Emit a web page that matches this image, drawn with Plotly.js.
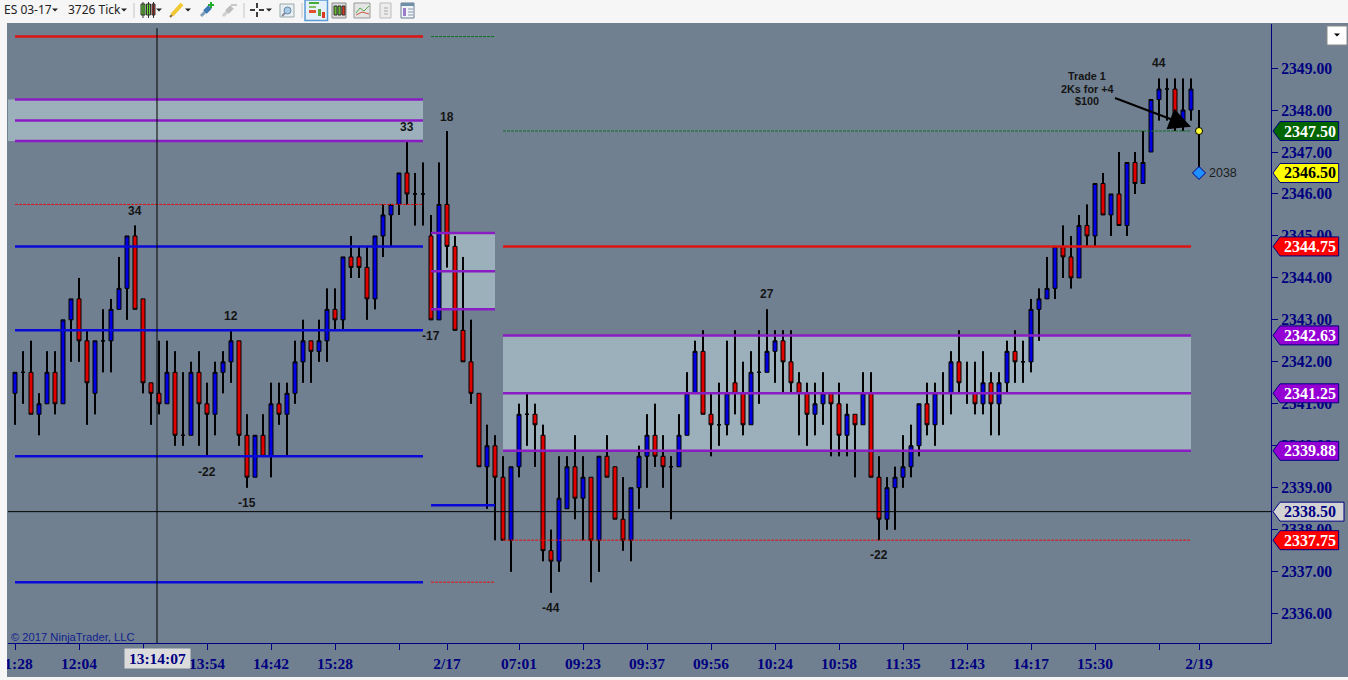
<!DOCTYPE html>
<html><head><meta charset="utf-8">
<script src="https://cdn.plot.ly/plotly-3.0.1.min.js"></script>
<style>html,body{margin:0;padding:0;background:#fff;overflow:hidden}#c{width:1348px;height:680px}</style>
</head><body><div id="c"></div>
<script>
const bars=Array.from({length:149},(_, i)=>i);
const opens=[2341.25,2341.75,2341.75,2340.75,2341,2341.75,2341,2343,2343.5,2342.5,
2341.25,2342.5,2342.5,2343.25,2343.75,2345,2343.5,2341.5,2341.25,2341,
2341.75,2340.25,2340.25,2341.75,2341,2340.75,2341.75,2342,2342.5,2340.25,
2339.25,2340.25,2339.75,2341,2340.75,2341.25,2342,2342.5,2342.25,2342.5,
2343.25,2343,2344.5,2344.5,2344.25,2343.5,2345,2345.5,2345.75,2346.5,
2346,2346,2345,2343,2345.75,2344.75,2342.75,2342,2341.25,2339.5,
2340,2339.25,2337.75,2339.5,2340.75,2340.75,2340.25,2337.5,2337.25,2338.5,
2339.5,2338.75,2339.25,2337.75,2339.75,2339.5,2338.25,2337.75,2339,2339.75,
2340.25,2339.75,2339.5,2339.5,2340.25,2341.25,2342.25,2340.75,2340.5,2340.5,
2341.5,2341.25,2340.5,2341.75,2341.75,2342.25,2342.5,2342,2341.5,2341.25,
2340.75,2341,2341.25,2341,2340.25,2340.75,2340.5,2341.25,2339.25,2338.25,
2339,2339.25,2339.5,2340,2341,2340.5,2341.25,2341.25,2342,2341.25,
2341.25,2341,2341.5,2341,2341.5,2342.25,2342,2342,2343.25,2343.5,
2343.75,2344.75,2344.5,2344,2345.25,2345,2346.25,2345.5,2346,2345.25,
2346.75,2346.25,2347,2348.25,2348.5,2348.5,2347.75,2348,2347.5];
const highs=[2341.75,2342.25,2342.5,2341.25,2342.25,2342.25,2343,2343.5,2344,2342.75,
2342.5,2343.25,2343.5,2344.5,2345,2345.25,2343.5,2341.5,2342.5,2342.5,
2342.25,2341.75,2342,2342.25,2341.5,2342,2342.25,2342.75,2342.5,2340.75,
2340.25,2340.75,2341.5,2341.5,2341.5,2342.5,2343,2342.5,2343,2343.75,
2343.75,2344.5,2345,2344.75,2344.75,2345,2345.75,2345.75,2346.5,2347.25,
2346.5,2346.75,2345.5,2346.75,2347.5,2345,2344.5,2343,2341.25,2340.5,
2340.25,2339.75,2339.5,2341,2341.25,2341,2340.5,2338,2339.75,2339.75,
2340.25,2339.75,2339.25,2339.75,2340.25,2339.5,2339.25,2339,2340,2340.75,
2341,2340.25,2339.75,2340.75,2341.75,2342.5,2342.75,2341.25,2341.5,2342.5,
2342.75,2342,2342.25,2342.75,2343.25,2342.75,2342.75,2342.75,2341.75,2341.5,
2341.5,2341.75,2341.25,2341.5,2341,2340.75,2341.75,2341.75,2339.75,2339.25,
2339.5,2340.25,2340.5,2341,2341.5,2341.5,2341.75,2342.25,2342.75,2342,
2342,2342.25,2341.75,2341.75,2342.5,2342.75,2342.5,2343.5,2343.75,2344.5,
2344.75,2345.25,2345,2345.5,2345.75,2346.25,2346.5,2346,2347,2346.75,
2347,2347.5,2348.25,2348.75,2348.75,2348.75,2348.75,2348.75,2348];
const lows=[2340.5,2341,2340.75,2340.25,2341,2340.75,2341,2342,2342,2340.5,
2340.75,2341.75,2341.75,2343.25,2343,2343.25,2341.25,2340.5,2340.75,2341,
2340,2340,2340.25,2340,2339.75,2340.25,2341.25,2341.5,2340,2339,
2339.25,2339.75,2339.25,2340.5,2339.75,2341,2341.5,2341.5,2342,2342,
2342.75,2342.75,2344,2344,2343,2343.25,2344.5,2344.75,2345.5,2345.75,
2345.25,2345.25,2343,2343,2344.25,2342.75,2342,2341,2339.5,2338.5,
2337.75,2337.75,2337,2339.25,2340,2339.5,2337.25,2336.5,2337,2338.5,
2338.25,2337.75,2336.75,2337,2339.25,2338.25,2337.5,2337.25,2338.5,2339,
2339.5,2339,2338.25,2339.5,2340.25,2341.25,2340.75,2339.75,2340,2340.25,
2340.75,2340.25,2340.5,2341,2341.75,2341.5,2341.25,2341.25,2340.25,2340,
2340.25,2340.5,2339.75,2339.75,2339.75,2339.25,2340.5,2339.25,2337.75,2338,
2338,2339,2339.25,2339.75,2340.25,2340,2340.5,2340.75,2341.25,2341,
2340.75,2340.75,2340.25,2340.25,2341.25,2341.5,2341.5,2341.75,2342.5,2343.5,
2343.5,2344,2343.75,2344,2344.75,2344.75,2345.5,2345,2345.25,2345,
2346,2346.25,2347,2347.75,2347.75,2347.5,2347.5,2347.75,2346.5];
const closes=[2341.75,2341.75,2340.75,2341,2341.75,2341,2343,2343.5,2342.5,2341.5,
2342.5,2342.5,2343.25,2343.75,2345,2343.25,2341.5,2341.25,2341,2341.75,
2340.25,2340.25,2341.75,2341,2340.75,2341.75,2342,2342.5,2340.25,2339.25,
2340.25,2339.75,2341,2340.75,2341.25,2342,2342.5,2342.25,2342.5,2343.25,
2343,2344.5,2344.25,2344.25,2343.5,2345,2345.5,2345.75,2346.5,2346,
2346,2346,2343,2345.75,2344.75,2342.75,2342,2341.25,2339.5,2340,
2339.25,2337.75,2339.5,2340.75,2340.75,2340.5,2337.5,2337.25,2338.75,2339.5,
2338.75,2339.25,2337.75,2339.75,2339.25,2338.25,2337.75,2339,2339.75,2340.25,
2339.75,2339.5,2339.5,2340.25,2341.25,2342.25,2340.75,2340.5,2340.5,2341.25,
2341.25,2340.5,2341.75,2341.75,2342.25,2342.5,2342,2341.5,2341.25,2340.75,
2341,2341.25,2341,2340.25,2340.75,2340.5,2341.25,2339.25,2338.25,2339,
2339.25,2339.5,2340,2341,2340.5,2341.25,2341.25,2342,2341.5,2341.25,
2341,2341.5,2341,2341.5,2342.25,2342,2342,2343.25,2343.5,2343.75,
2344.75,2344.5,2344,2345.25,2345,2346.25,2345.5,2346,2345.25,2346.75,
2346.25,2346.75,2348.25,2348.5,2348.5,2347.75,2348,2348.5,2347.5];

// horizontal levels: session start bar, end bar, prices
const sessionA=[0,51], sessionB=[52,60], sessionC=[61,147];
const purpleA=[2348.25,2347.75,2347.26], purpleB=[2345.07,2344.16,2343.25], purpleC=[2342.63,2341.25,2339.88];
const blueA=[2344.75,2342.75,2339.75,2336.75], blueB=[2338.58];
const redSolidA=[2349.75], redSolidC=[2344.75];
const redDashA=[2345.75], redDashB=[2336.75], redDashC=[2337.75];
const greenDashB=[2349.75], greenDashC=[2347.5];

const tickBars=[0,8,16,24,32,40,48,54,63,71,79,87,95,103,111,119,127,135,143,148];
const tickTexts=['11:28','12:04','','13:54','14:42','15:28','','2/17','07:01','09:23','09:37','09:56','10:24','10:58','11:35','12:43','14:17','15:30','','2/19'];
const priceTicks=[2336,2337,2338,2339,2340,2341,2342,2343,2344,2345,2346,2347,2348,2349];

const swingBars=[15,49,54,27,24,29,52,94,108,67,143];
const swingPrices=[2345.59,2347.59,2347.83,2343.09,2339.37,2338.63,2342.61,2343.61,2337.39,2336.13,2349.12];
const swingLabels=['34','33','18','12','-22','-15','-17','27','-22','-44','44'];

const flagPrices=[2347.5,2346.5,2344.75,2342.63,2341.25,2339.88,2338.43,2337.75];
const flagLabels=['2347.50','2346.50','2344.75','2342.63','2341.25','2339.88','2338.50','2337.75'];
const flagFills=['#006400','#ffff00','#ff0000','#9400d3','#9400d3','#9400d3','#d3d3d3','#ff0000'];
const flagInks=['#ffffff','#000000','#ffffff','#ffffff','#ffffff','#ffffff','#000080','#ffffff'];

const crossBar=17.75, crossPrice=2338.43, crossTop=2349.95;
const markerBar=148, dotPrice=2347.5, diamondPrice=2346.5, volumeText='2038';

// geometry helpers (pixel to paper fractions)
const L=8,R=1271,T=24,B=643;
const fx=x=>(x-L)/(R-L), fy=y=>(B-y)/(B-T);
const SLATE='#708090',BAND='#9bb0ba',NAVY='#000080';

const traces=[];
function seg(range,levels,color,width,dash){
  levels.forEach(v=>traces.push({type:'scatter',mode:'lines',x:range,y:[v,v],
    line:{color,width,dash:dash||'solid'},hoverinfo:'skip',showlegend:false}));
}
// bodies from the candlestick; 2px wicks from the series, above and below each body
traces.push({type:'candlestick',x:bars,open:opens,high:highs,low:lows,close:closes,
  increasing:{line:{color:'#000',width:1},fillcolor:'#0000e0'},
  decreasing:{line:{color:'#000',width:1},fillcolor:'#e00000'},
  whiskerwidth:0,hoverinfo:'skip',showlegend:false});
traces.push({type:'scatter',mode:'lines',
  x:bars.flatMap(i=>[bars[i],bars[i],null,bars[i],bars[i],null]),
  y:bars.flatMap(i=>[highs[i],Math.max(opens[i],closes[i]),null,Math.min(opens[i],closes[i]),lows[i],null]),
  connectgaps:false,line:{color:'#000',width:2},hoverinfo:'skip',showlegend:false});
seg(sessionA,purpleA,'#8a1cc4',2.5); seg(sessionB,purpleB,'#8a1cc4',2.5); seg(sessionC,purpleC,'#8a1cc4',2.5);
seg(sessionA,blueA,'#0a0ad8',2.5); seg(sessionB,blueB,'#0a0ad8',2.5);
seg(sessionA,redSolidA,'#dc1414',2.5); seg(sessionC,redSolidC,'#dc1414',2.5);
seg(sessionA,redDashA,'#dc1414',1,'3px,1px'); seg(sessionB,redDashB,'#dc1414',1,'3px,1px'); seg(sessionC,redDashC,'#dc1414',1,'3px,1px');
seg(sessionB,greenDashB,'#0a6e1e',1,'3px,1px'); seg(sessionC,greenDashC,'#0a6e1e',1,'3px,1px');
traces.push({type:'scatter',mode:'lines',x:[crossBar,crossBar],y:[2335.3,crossTop],line:{color:'#000',width:1},hoverinfo:'skip',showlegend:false});
traces.push({type:'scatter',mode:'lines',x:[-0.875,157],y:[crossPrice,crossPrice],line:{color:'#000',width:1},hoverinfo:'skip',showlegend:false});
traces.push({type:'scatter',mode:'markers',x:[markerBar],y:[dotPrice],marker:{symbol:'circle',size:7,color:'#ffff33',line:{color:'#000',width:1}},hoverinfo:'skip',showlegend:false});
traces.push({type:'scatter',mode:'markers',x:[markerBar],y:[diamondPrice],marker:{symbol:'diamond',size:10,color:'#1e90ff',line:{color:'#000080',width:1}},hoverinfo:'skip',showlegend:false});

const shapes=[];
function band(x0,x1,levels){shapes.push({type:'rect',layer:'below',xref:'x',yref:'y',x0,x1,y0:levels[2],y1:levels[0],fillcolor:BAND,line:{width:0}});}
band(-0.875,51,purpleA); band(52,60,purpleB); band(61,147,purpleC);

function box(x0,y0,x1,y1,fill,line,lw){shapes.push({type:'rect',layer:'above',xref:'paper',yref:'paper',x0:fx(x0),x1:fx(x1),y0:fy(y1),y1:fy(y0),fillcolor:fill,line:line?{color:line,width:lw||1}:{width:0}});}
function ln(x0,y0,x1,y1,c,w){shapes.push({type:'line',layer:'above',xref:'paper',yref:'paper',x0:fx(x0),x1:fx(x1),y0:fy(y0),y1:fy(y1),line:{color:c,width:w||1}});}
function tri(x,y,c){const s=`M ${fx(x-3)} ${fy(y-1.5)} L ${fx(x+3)} ${fy(y-1.5)} L ${fx(x)} ${fy(y+1.5)} Z`;shapes.push({type:'path',layer:'above',xref:'paper',yref:'paper',path:s,fillcolor:c||'#222',line:{width:0}});}

// window chrome
box(0,0,1348,23,'#f6f6f6');
box(0,23,7,680,'#f6f6f6');
box(0,677,1348,680,'#f6f6f6');
box(1327,26,1347,45,'#ffffff','#8a8a8a');
tri(1337,35,'#000');

// toolbar icons
tri(55,10); tri(124,10);
ln(134,3,134,18,'#c4c4c4'); ln(244,3,244,18,'#c4c4c4'); ln(302,3,302,18,'#c4c4c4');
box(141,4,145,15,'#66dd33','#333'); box(146.5,4,150.5,15,'#66dd33','#333'); box(152,4,155,15,'#dd3322','#333');
ln(143,2,143,18,'#333'); ln(148.5,2,148.5,18,'#333'); ln(153.5,2,153.5,18,'#333');
tri(159,10);
ln(172,15,182,4,'#f2c832',4); ln(170,17,172,15,'#8a6a30',2); tri(188,10);
ln(201,16,207,10,'#7f9fb8',3); ln(205,12,210,7,'#3c78b4',5); ln(208,5,214,5,'#22aa33',2); ln(211,2,211,8,'#22aa33',2);
ln(223,16,229,10,'#cfcfcf',3); ln(227,12,232,7,'#bdbdbd',5); ln(231,5,237,5,'#c8c8c8',2);
ln(250,10,255,10,'#000',1.5); ln(259,10,264,10,'#000',1.5); ln(257,3,257,8,'#000',1.5); ln(257,12,257,17,'#000',1.5); tri(269,10);
box(280,4,294,17,'#e8eef2','#9aa'); ln(282,16,285,13,'#889',2); shapes.push({type:'circle',layer:'above',xref:'paper',yref:'paper',x0:fx(284),x1:fx(291),y0:fy(14),y1:fy(7),fillcolor:'#a8c8e8',line:{color:'#6a8aa8',width:1}});
box(305,0,327.5,20.5,'#e4f0fa','#5a9bd5',1.5);
ln(309,3,319,3,'#44aa33',2); ln(309,7,316,7,'#88bb66',2); box(309,10,316,13,'#e2502e'); box(318,9,321,16,'#5aa83c'); box(322,12,325,18,'#d83a22');
box(332,3,346,18,'#dcdcdc','#888'); box(334,6,337,15,'#66bb33','#333'); box(338,6,341,15,'#66bb33','#333'); box(342,6,345,15,'#d83a22','#333');
box(354,3,370,18,'#e4e4e4','#999'); ln(356,13,360,8,'#55aa55',1); ln(360,8,364,11,'#55aa55',1); ln(364,11,369,6,'#55aa55',1); ln(356,15,362,12,'#cc5544',1); ln(362,12,369,14,'#cc5544',1);
box(380,3,391,18,'#ececec','#bbb'); ln(384,8,388,8,'#a8a8a8',1); ln(384,11,388,11,'#a8a8a8',1); ln(384,14,388,14,'#a8a8a8',1);
box(401,3,414,18,'#f0f4f8','#6a7f94'); box(401,3,414,6,'#6f8ea8'); box(403,8,406,16,'#9a7cc8'); ln(408,9,413,9,'#8899aa'); ln(408,12,413,12,'#8899aa'); ln(408,15,413,15,'#8899aa');

// price flags
flagPrices.forEach((p,i)=>{const w=i===6?73:67.7;
  shapes.push({type:'path',layer:'above',xref:'paper',xsizemode:'pixel',xanchor:1,yref:'y',ysizemode:'pixel',yanchor:p,
    path:`M 2 0 L 9 9.5 L ${w} 9.5 L ${w} -9.5 L 9 -9.5 Z`,fillcolor:flagFills[i],line:{color:NAVY,width:1}});
});

const anns=[];
swingBars.forEach((b,i)=>anns.push({xref:'x',yref:'y',x:b,y:swingPrices[i],text:swingLabels[i],showarrow:false,xanchor:'center',
  font:{family:'Liberation Sans',size:12,color:'#141414',weight:'bold'}}));
function pxText(text,x,y,font,extra){anns.push(Object.assign({xref:'paper',yref:'paper',x:fx(x),y:fy(y),text,showarrow:false,font,xanchor:'center',yanchor:'middle',borderpad:0},extra||{}));}
const boldS={family:'Liberation Sans',size:10.8,color:'#141414',weight:'bold'};
pxText('Trade 1',1087,76,boldS); pxText('2Ks for +4',1087,89,boldS); pxText('$100',1087,101,boldS);
anns.push({xref:'x',yref:'y',x:147,y:2347.6,ax:-79,ay:-30,axref:'pixel',ayref:'pixel',text:' ',showarrow:true,arrowhead:2,arrowsize:2.2,arrowwidth:2,arrowcolor:'#000'});
anns.push({xref:'x',yref:'y',x:markerBar,y:diamondPrice,xshift:24,xanchor:'center',text:volumeText,showarrow:false,font:{family:'Liberation Sans',size:12.5,color:'#1c1c1c'}});
flagPrices.forEach((p,i)=>anns.push({xref:'paper',yref:'y',x:fx(1310),y:p,xanchor:'center',yanchor:'middle',text:flagLabels[i],showarrow:false,borderpad:0,
  font:{family:'Liberation Serif',size:16,color:flagInks[i],weight:'bold'}}));
pxText('13:14:07',157.5,658.5,{family:'Liberation Serif',size:15.5,color:NAVY,weight:'bold'},{bgcolor:'#dcdcdc',width:65,height:19});
pxText('\u00a9 2017 NinjaTrader, LLC',10,637,{family:'Liberation Sans',size:11.2,color:'#10208c'},{xanchor:'left'});
const tb={family:'Noto Sans',size:12,color:'#222'};
pxText('ES 03-17',3,9.5,tb,{xanchor:'left'});
pxText('3726 Tick',67,9.5,tb,{xanchor:'left'});

Plotly.newPlot('c',traces,{
  width:1348,height:680,autosize:false,showlegend:false,hovermode:false,
  margin:{l:L,r:1348-R,t:T,b:680-B,pad:0},
  paper_bgcolor:SLATE,plot_bgcolor:SLATE,boxgap:0.5,boxgroupgap:0,
  xaxis:{type:'linear',range:[-0.875,157],rangeslider:{visible:false},showgrid:false,zeroline:false,
    tickmode:'array',tickvals:tickBars,ticktext:tickTexts,ticks:'outside',ticklen:6,tickcolor:NAVY,tickwidth:1,ticklabeloverflow:'allow',
    showline:true,linecolor:NAVY,linewidth:1,tickangle:0,tickfont:{family:'Liberation Serif',size:15.5,color:NAVY,weight:'bold'}},
  yaxis:{side:'right',range:[2335.3,2350.05],showgrid:false,zeroline:false,
    tickmode:'array',tickvals:priceTicks,ticktext:priceTicks.map(v=>v.toFixed(2)),ticks:'outside',ticklen:6,tickcolor:NAVY,tickwidth:1,
    showline:true,linecolor:NAVY,linewidth:1,tickfont:{family:'Liberation Serif',size:15.7,color:NAVY,weight:'bold'}},
  shapes,annotations:anns
},{displayModeBar:false,staticPlot:true});
</script></body></html>
